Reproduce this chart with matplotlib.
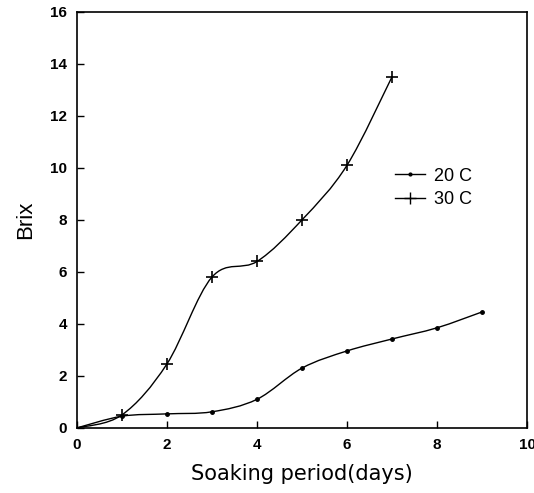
import matplotlib
matplotlib.use('Agg')
import matplotlib.pyplot as plt
from matplotlib.path import Path
from matplotlib.patches import PathPatch
from matplotlib.lines import Line2D

# soaking days and brix readings
days_20 = [0, 1, 2, 3, 4, 5, 6, 7, 8, 9]
brix_20 = [0, 0.45, 0.54, 0.62, 1.1, 2.3, 2.96, 3.42, 3.85, 4.46]
days_30 = [0, 1, 2, 3, 4, 5, 6, 7]
brix_30 = [0, 0.5, 2.46, 5.8, 6.4, 8.0, 10.1, 13.5]

x_ticks = [0, 2, 4, 6, 8, 10]
y_ticks = [0, 2, 4, 6, 8, 10, 12, 14, 16]

plt.rcParams['font.family'] = ['Liberation Sans', 'DejaVu Sans']


def smooth_path(xs, ys):
	# Catmull-Rom curve through the points, drawn as bezier segments
	pts = list(zip(xs, ys))
	verts = [pts[0]]
	codes = [Path.MOVETO]
	n = len(pts)
	for i in range(n - 1):
		p0 = pts[max(i - 1, 0)]
		p1 = pts[i]
		p2 = pts[i + 1]
		p3 = pts[min(i + 2, n - 1)]
		c1 = (p1[0] + (p2[0] - p0[0]) / 6, p1[1] + (p2[1] - p0[1]) / 6)
		c2 = (p2[0] - (p3[0] - p1[0]) / 6, p2[1] - (p3[1] - p1[1]) / 6)
		verts += [c1, c2, p2]
		codes += [Path.CURVE4] * 3
	return Path(verts, codes)


fig = plt.figure(figsize=(5.34, 4.93), dpi=100)
ax = fig.add_axes([0.144, 0.132, 0.843, 0.844])

ax.add_patch(PathPatch(smooth_path(days_20, brix_20), fill=False, color='black', lw=1.0))
ax.add_patch(PathPatch(smooth_path(days_30, brix_30), fill=False, color='black', lw=1.0))
ax.plot(days_20[1:], brix_20[1:], ls='none', marker='o', ms=2.5, color='black')
ax.plot(days_30[1:], brix_30[1:], ls='none', marker='+', ms=9, mew=1.2, color='black')

ax.set_xlim(0, 10)
ax.set_ylim(0, 16)
ax.set_xticks(x_ticks)
ax.set_yticks(y_ticks)
ax.tick_params(direction='in', length=5, width=1, labelsize=11, pad=7)
for lab in ax.get_xticklabels() + ax.get_yticklabels():
	lab.set_fontweight('bold')
for s in ax.spines.values():
	s.set_linewidth(1.2)

ax.set_xlabel('Soaking period(days)', fontsize=15, family='DejaVu Sans', labelpad=9)
ax.set_ylabel('Brix', fontsize=16, labelpad=10)

handles = [Line2D([], [], color='black', lw=1, marker='o', ms=2),
	Line2D([], [], color='black', lw=1, marker='+', ms=8)]
ax.legend(handles, ['20 C', '30 C'], frameon=False, fontsize=13,
	loc='center left', bbox_to_anchor=(0.67, 0.577), handlelength=1.7,
	handletextpad=0.45, labelspacing=0.35)

plt.savefig('out.png', dpi=100)
